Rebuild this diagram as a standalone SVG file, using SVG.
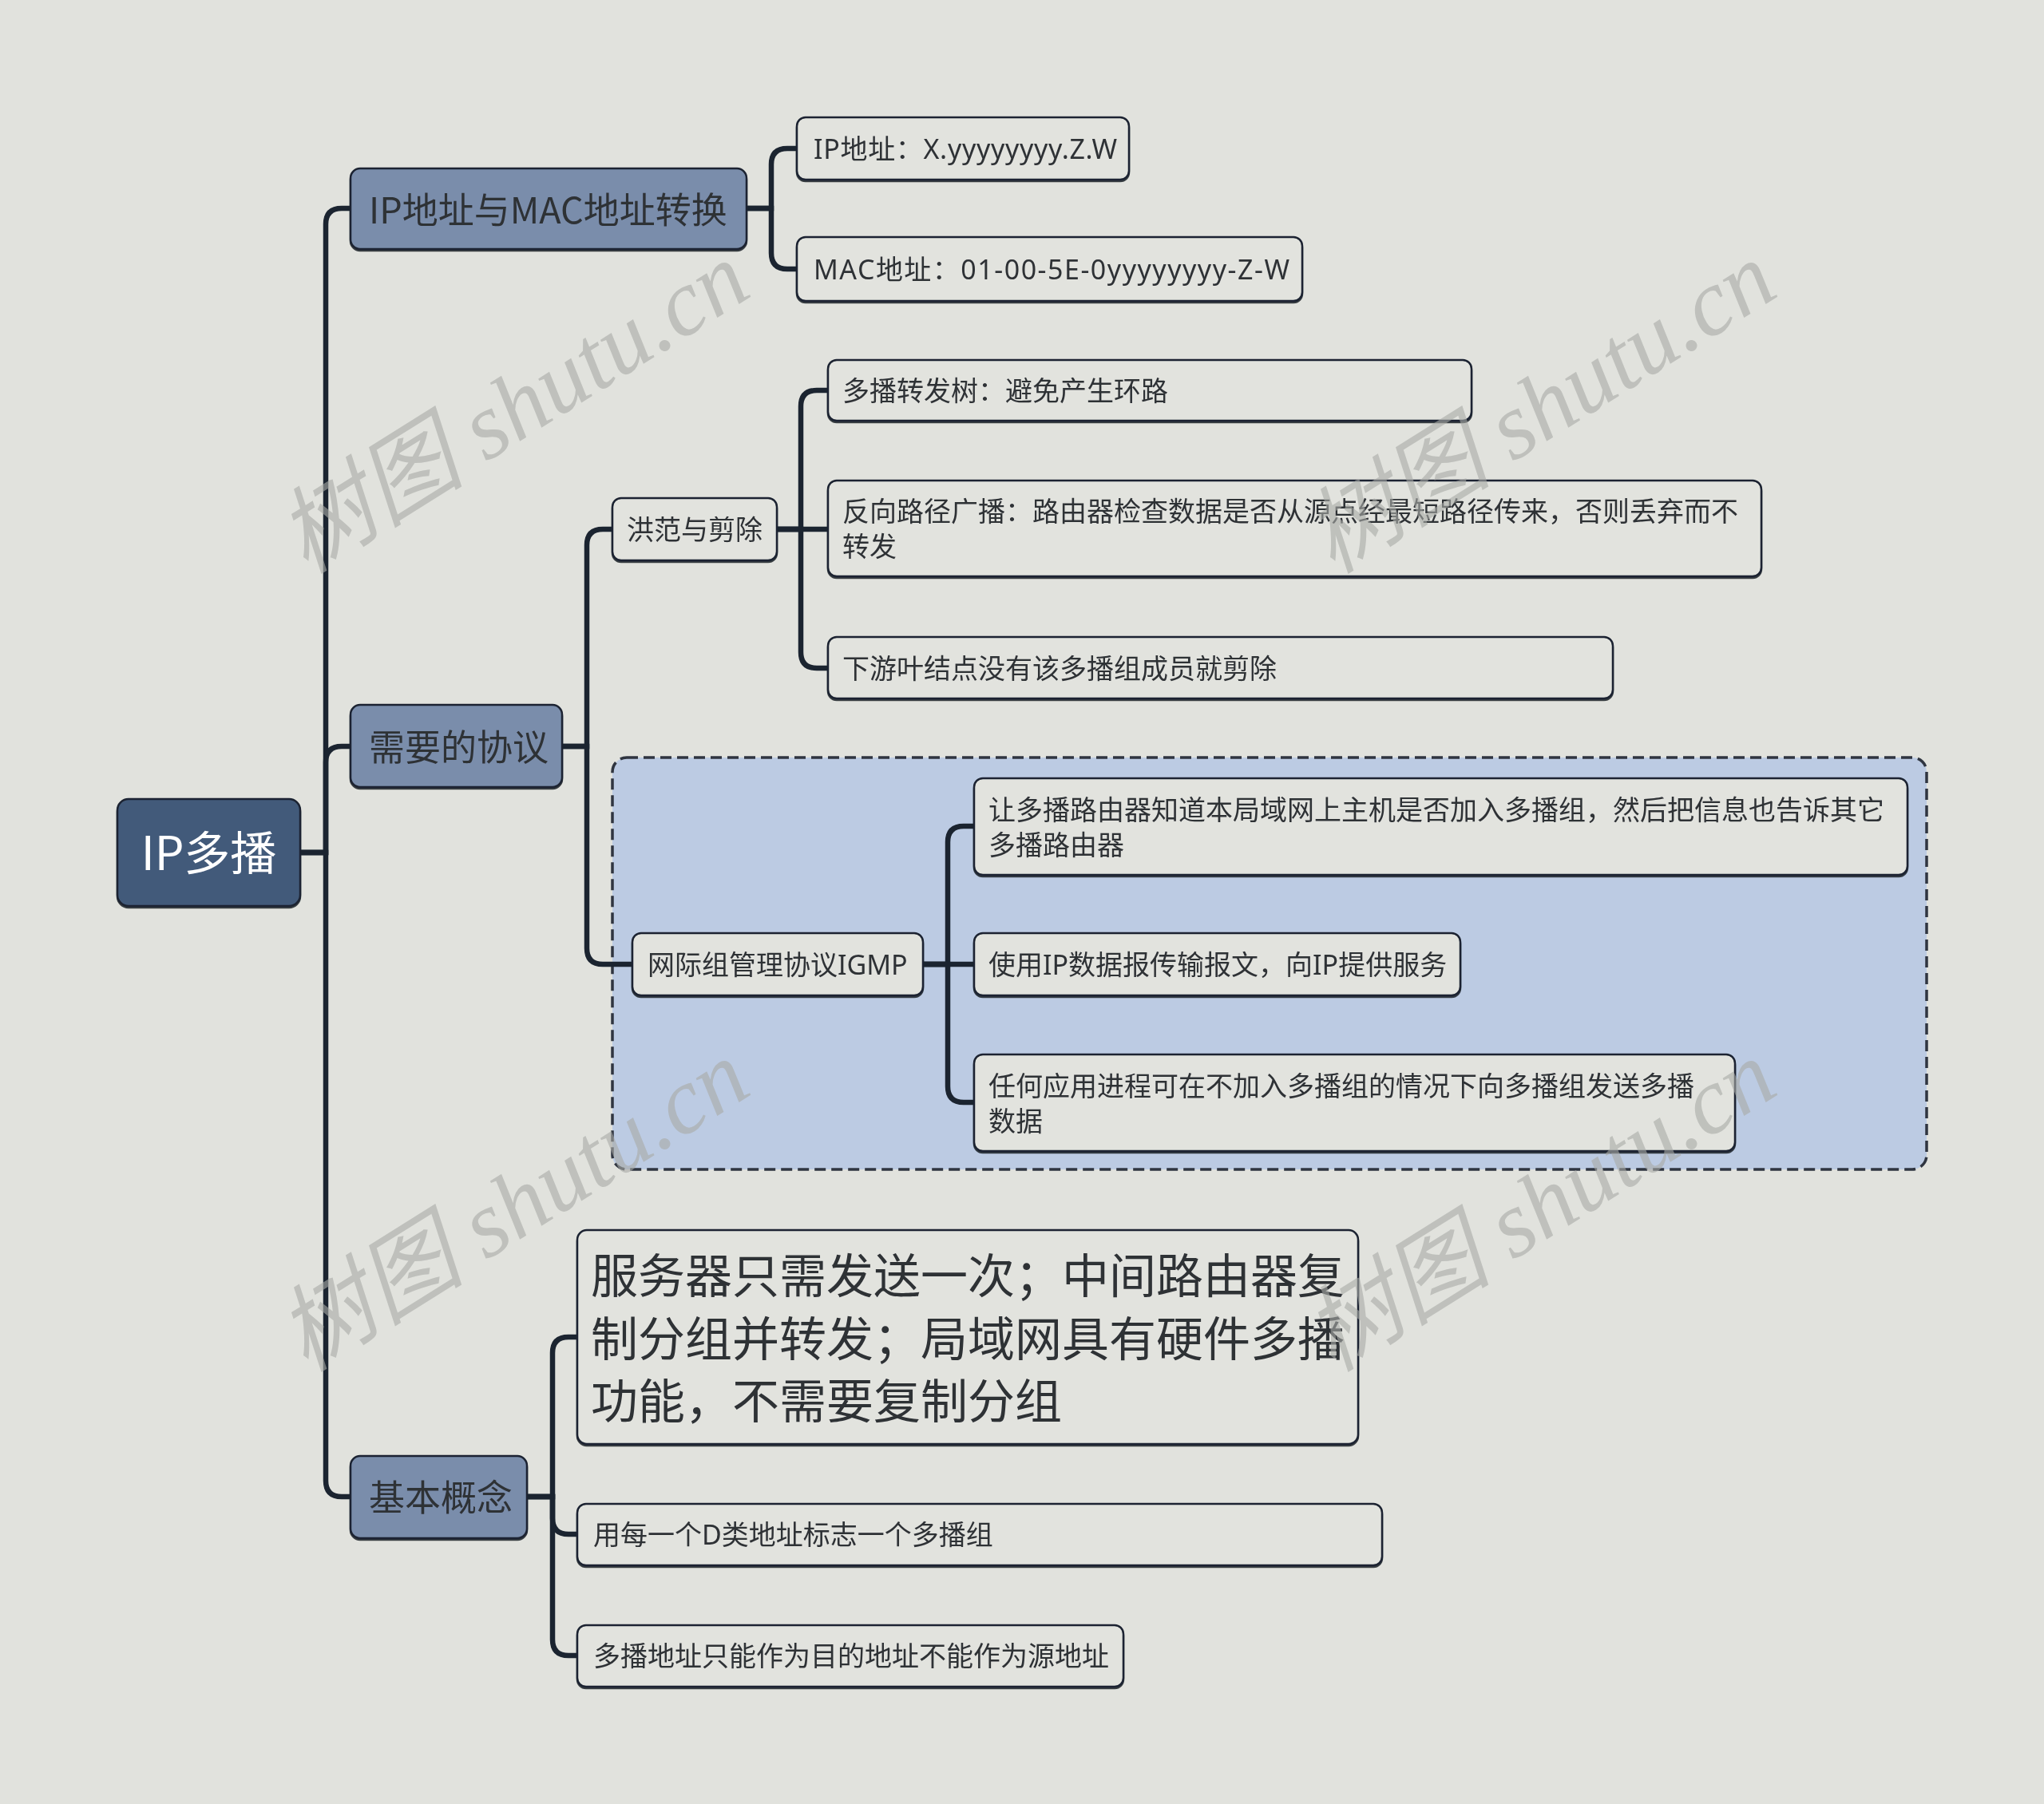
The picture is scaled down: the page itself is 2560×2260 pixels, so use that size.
<svg xmlns="http://www.w3.org/2000/svg" width="2560" height="2260" viewBox="0 0 2560 2260">
<defs>
<filter id="sh" x="-5%" y="-10%" width="110%" height="130%">
<feDropShadow dx="0" dy="2" stdDeviation="0.6" flood-color="#141c28" flood-opacity="0.85"/>
</filter>
</defs>
<style>
.t{font-family:"Noto Sans CJK SC","Noto Sans",sans-serif;fill:#2e3036}
.t34{font-size:34px;font-family:"Noto Sans","Noto Sans CJK SC",sans-serif}
.t45{font-size:45px}
.leaf{fill:#e2e3de;stroke:#1b2430;stroke-width:2.5}
.l1{fill:#7a8dab;stroke:#1b2430;stroke-width:2.5}
.root{fill:#435a7a;stroke:#1b2430;stroke-width:2.5}
.conn path{fill:none;stroke:#1b2430;stroke-width:6.5;stroke-linecap:butt}
.wm{font-family:"Liberation Serif","Noto Sans CJK SC",serif;font-style:italic;font-size:118px;fill:#a9aba7;opacity:0.6}
</style>
<rect width="2560" height="2260" fill="#e1e2dd"/>

<g id="igmp-group">
<rect x="767" y="949" width="1646" height="516" rx="18" fill="#bccbe3" stroke="#2f3540" stroke-width="3.5" stroke-dasharray="14 7"/>
</g>

<g id="connectors" class="conn">
<path d="M376,1068 H408 V281 Q408,261 428,261 H439"/>
<path d="M376,1068 H408 V955 Q408,935 428,935 H439"/>
<path d="M376,1068 H408 V1855 Q408,1875 428,1875 H439"/>
<path d="M935,261 H966 V206 Q966,186 986,186 H998"/>
<path d="M935,261 H966 V317 Q966,337 986,337 H998"/>
<path d="M704,935 H735 V683 Q735,663 755,663 H767"/>
<path d="M704,935 H735 V1188 Q735,1208 755,1208 H792"/>
<path d="M973,663 H1003 V509 Q1003,489 1023,489 H1037"/>
<path d="M973,663 H1037"/>
<path d="M973,663 H1003 V817 Q1003,837 1023,837 H1037"/>
<path d="M1156,1208 H1187 V1055 Q1187,1035 1207,1035 H1220"/>
<path d="M1156,1208 H1220"/>
<path d="M1156,1208 H1187 V1361 Q1187,1381 1207,1381 H1220"/>
<path d="M660,1875 H692 V1695 Q692,1675 712,1675 H723"/>
<path d="M660,1875 H692 V1902 Q692,1922 712,1922 H723"/>
<path d="M660,1875 H692 V2054 Q692,2074 712,2074 H723"/>
</g>

<g id="root" filter="url(#sh)">
<rect class="root" x="147" y="1001" width="229" height="134" rx="14"/>
<text class="t" x="261.5" y="1090" text-anchor="middle" style="font-size:58px;fill:#ffffff">IP多播</text>
</g>

<g id="n-ipmac" filter="url(#sh)">
<rect class="l1" x="439" y="211" width="496" height="101" rx="12"/>
<text class="t t45" x="462" y="280">IP地址与MAC地址转换</text>
</g>
<g id="n-ip" filter="url(#sh)">
<rect class="leaf" x="998" y="147" width="416" height="78" rx="11"/>
<text class="t t34" x="1019" y="199" textLength="380" lengthAdjust="spacing">IP地址：X.yyyyyyyy.Z.W</text>
</g>
<g id="n-mac" filter="url(#sh)">
<rect class="leaf" x="998" y="297" width="633" height="80" rx="11"/>
<text class="t t34" x="1019" y="350" textLength="596" lengthAdjust="spacing">MAC地址：01-00-5E-0yyyyyyyy-Z-W</text>
</g>

<g id="n-proto" filter="url(#sh)">
<rect class="l1" x="439" y="883" width="265" height="103" rx="12"/>
<text class="t t45" x="462" y="953">需要的协议</text>
</g>
<g id="n-flood" filter="url(#sh)">
<rect class="leaf" x="767" y="624" width="206" height="78" rx="11"/>
<text class="t t34" x="785" y="676">洪范与剪除</text>
</g>
<g id="n-tree" filter="url(#sh)">
<rect class="leaf" x="1037" y="451" width="806" height="76" rx="11"/>
<text class="t t34" x="1055" y="502">多播转发树：避免产生环路</text>
</g>
<g id="n-rpb" filter="url(#sh)">
<rect class="leaf" x="1037" y="602" width="1169" height="120" rx="11"/>
<text class="t t34" x="1055" y="653">反向路径广播：路由器检查数据是否从源点经最短路径传来，否则丢弃而不</text>
<text class="t t34" x="1055" y="697">转发</text>
</g>
<g id="n-prune" filter="url(#sh)">
<rect class="leaf" x="1037" y="798" width="983" height="77" rx="11"/>
<text class="t t34" x="1055" y="850">下游叶结点没有该多播组成员就剪除</text>
</g>
<g id="n-igmp" filter="url(#sh)">
<rect class="leaf" x="792" y="1169" width="364" height="78" rx="11"/>
<text class="t t34" x="811" y="1221">网际组管理协议IGMP</text>
</g>
<g id="n-igmp1" filter="url(#sh)">
<rect class="leaf" x="1220" y="975" width="1169" height="121" rx="11"/>
<text class="t t34" x="1238" y="1027">让多播路由器知道本局域网上主机是否加入多播组，然后把信息也告诉其它</text>
<text class="t t34" x="1238" y="1071">多播路由器</text>
</g>
<g id="n-igmp2" filter="url(#sh)">
<rect class="leaf" x="1220" y="1169" width="609" height="78" rx="11"/>
<text class="t t34" x="1238" y="1221">使用IP数据报传输报文，向IP提供服务</text>
</g>
<g id="n-igmp3" filter="url(#sh)">
<rect class="leaf" x="1220" y="1321" width="953" height="121" rx="11"/>
<text class="t t34" x="1238" y="1373">任何应用进程可在不加入多播组的情况下向多播组发送多播</text>
<text class="t t34" x="1238" y="1417">数据</text>
</g>

<g id="n-basic" filter="url(#sh)">
<rect class="l1" x="439" y="1824" width="221" height="103" rx="12"/>
<text class="t t45" x="462" y="1893">基本概念</text>
</g>
<g id="n-basic1" filter="url(#sh)">
<rect class="leaf" x="723" y="1541" width="978" height="268" rx="12"/>
<text class="t" x="740" y="1620" style="font-size:59px">服务器只需发送一次；中间路由器复</text>
<text class="t" x="740" y="1699" style="font-size:59px">制分组并转发；局域网具有硬件多播</text>
<text class="t" x="740" y="1777" style="font-size:59px">功能，不需要复制分组</text>
</g>
<g id="n-basic2" filter="url(#sh)">
<rect class="leaf" x="723" y="1884" width="1008" height="77" rx="11"/>
<text class="t t34" x="743" y="1935">用每一个D类地址标志一个多播组</text>
</g>
<g id="n-basic3" filter="url(#sh)">
<rect class="leaf" x="723" y="2036" width="684" height="77" rx="11"/>
<text class="t t34" x="743" y="2087">多播地址只能作为目的地址不能作为源地址</text>
</g>

<g id="watermarks">
<text class="wm" x="645" y="550" text-anchor="middle" transform="rotate(-32 645 514)">树图 shutu.cn</text>
<text class="wm" x="1931" y="550" text-anchor="middle" transform="rotate(-32 1931 514)">树图 shutu.cn</text>
<text class="wm" x="645" y="1550" text-anchor="middle" transform="rotate(-32 645 1514)">树图 shutu.cn</text>
<text class="wm" x="1931" y="1550" text-anchor="middle" transform="rotate(-32 1931 1514)">树图 shutu.cn</text>
</g>
</svg>
